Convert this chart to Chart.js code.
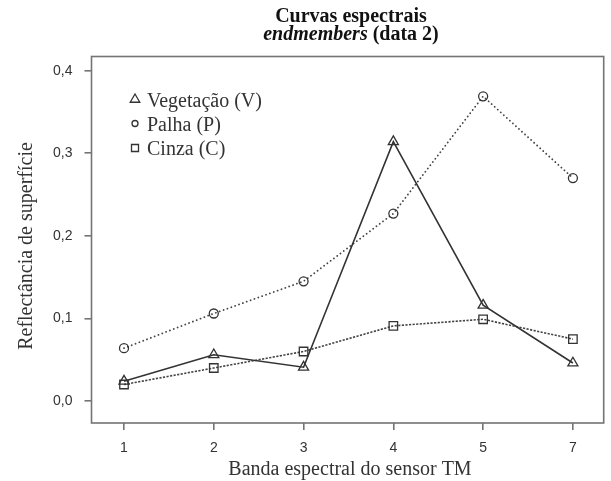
<!DOCTYPE html>
<html><head><meta charset="utf-8">
<script src="https://cdn.jsdelivr.net/npm/chart.js@4.4.0/dist/chart.umd.min.js"></script>
<style>html,body{margin:0;padding:0;background:#fff;} canvas{display:block;}</style>
</head><body>
<canvas id="c" width="611" height="481"></canvas>
<script>
// ---- data ----
const bands = ["1", "2", "3", "4", "5", "7"];
const vegetacao = [0.024, 0.056, 0.041, 0.314, 0.116, 0.046];
const palha     = [0.064, 0.106, 0.145, 0.227, 0.369, 0.270];
const cinza     = [0.020, 0.040, 0.060, 0.091, 0.099, 0.075];
const yTicks = [0, 0.1, 0.2, 0.3, 0.4];
const seriesNames = ["Vegetação (V)", "Palha (P)", "Cinza (C)"];
const titleLine1 = "Curvas espectrais";
const titleItalic = "endmembers";
const titleRest = " (data 2)";
const xTitle = "Banda espectral do sensor TM";
const yTitle = "Reflectância de superfície";

const INK = '#333333';
const AXIS = '#747474';
const SERIF = '"Liberation Serif", "Times New Roman", serif';
const SANS = '"Liberation Sans", Arial, sans-serif';

const toPts = arr => arr.map((v, i) => ({x: i + 1, y: v}));

function drawMarker(ctx, style, x, y, size) {
  ctx.beginPath();
  if (style === 'circle') {
    ctx.arc(x, y, size, 0, Math.PI * 2);
  } else if (style === 'triangle') {
    const r = size;
    ctx.moveTo(x, y - r);
    ctx.lineTo(x + r * Math.sqrt(3) / 2, y + r / 2);
    ctx.lineTo(x - r * Math.sqrt(3) / 2, y + r / 2);
    ctx.closePath();
  } else {
    ctx.rect(x - size, y - size, size * 2, size * 2);
  }
  ctx.stroke();
}

const decor = {
  id: 'decor',
  beforeDatasetsDraw(chart) {
    const {ctx, chartArea: a} = chart;
    ctx.save();
    ctx.strokeStyle = AXIS;
    ctx.lineWidth = 1.6;
    ctx.strokeRect(a.left, a.top, a.right - a.left, a.bottom - a.top);
    ctx.restore();
  },
  afterDraw(chart) {
    const {ctx} = chart;
    ctx.save();
    ctx.fillStyle = '#111';
    // title
    const cx = 351;
    ctx.font = 'bold 20px ' + SERIF;
    ctx.textAlign = 'center';
    ctx.textBaseline = 'alphabetic';
    ctx.fillText(titleLine1, cx, 22);
    ctx.font = 'italic bold 20px ' + SERIF;
    const w1 = ctx.measureText(titleItalic).width;
    ctx.font = 'bold 20px ' + SERIF;
    const w2 = ctx.measureText(titleRest).width;
    const x0 = cx - (w1 + w2) / 2;
    ctx.textAlign = 'left';
    ctx.font = 'italic bold 20px ' + SERIF;
    ctx.fillText(titleItalic, x0, 40);
    ctx.font = 'bold 20px ' + SERIF;
    ctx.fillText(titleRest, x0 + w1, 40);

    // axis titles
    ctx.fillStyle = INK;
    ctx.font = '20px ' + SERIF;
    ctx.textAlign = 'center';
    ctx.fillText(xTitle, 350, 474.5);
    ctx.save();
    ctx.translate(31.5, 246);
    ctx.rotate(-Math.PI / 2);
    ctx.fillText(yTitle, 0, 0);
    ctx.restore();

    // legend
    const rowsY = [99.5, 123.5, 148];
    const legendSize = [5.5, 3, 3.5];
    ctx.strokeStyle = INK;
    ctx.lineWidth = 1.3;
    ctx.textAlign = 'left';
    chart.data.datasets.forEach((ds, i) => {
      drawMarker(ctx, ds.pointStyle, 135, rowsY[i], legendSize[i]);
      ctx.fillStyle = INK;
      ctx.fillText(ds.label, 147, rowsY[i] + 7);
    });
    ctx.restore();
  }
};

new Chart(document.getElementById('c'), {
  type: 'line',
  data: {
    datasets: [
      {
        label: seriesNames[0], data: toPts(vegetacao),
        borderColor: INK, borderWidth: 1.6, pointStyle: 'triangle',
        pointRadius: 5.8, pointBorderColor: INK, pointBackgroundColor: 'rgba(0,0,0,0)',
        pointBorderWidth: 1.3, tension: 0
      },
      {
        label: seriesNames[1], data: toPts(palha),
        borderColor: '#444', borderWidth: 1.8, borderDash: [0.1, 4], borderCapStyle: 'round',
        pointStyle: 'circle', pointRadius: 4.5, pointBorderColor: INK,
        pointBackgroundColor: 'rgba(0,0,0,0)', pointBorderWidth: 1.3, tension: 0
      },
      {
        label: seriesNames[2], data: toPts(cinza),
        borderColor: '#444', borderWidth: 1.6, borderDash: [2.2, 1.4],
        pointStyle: 'rect', pointRadius: 6, pointBorderColor: INK,
        pointBackgroundColor: 'rgba(0,0,0,0)', pointBorderWidth: 1.3, tension: 0
      }
    ]
  },
  options: {
    responsive: false,
    animation: false,
    devicePixelRatio: 1,
    layout: {padding: {left: 0, right: 3.3, top: 56.5, bottom: 0}},
    plugins: {legend: {display: false}, tooltip: {enabled: false}, title: {display: false}},
    scales: {
      x: {
        type: 'linear', min: 0.638, max: 6.343,
        afterBuildTicks: s => { s.ticks = bands.map((b, i) => ({value: i + 1})); },
        afterFit: s => { s.height = 58; },
        ticks: {
          callback: v => bands[Math.round(v) - 1],
          color: INK, font: {family: SANS, size: 14}, padding: 10, maxRotation: 0, autoSkip: false
        },
        grid: {drawOnChartArea: false, drawTicks: true, tickLength: 7, color: AXIS, lineWidth: 1.6},
        border: {display: false}
      },
      y: {
        type: 'linear', min: -0.0266, max: 0.4172,
        afterBuildTicks: s => { s.ticks = yTicks.map(v => ({value: v})); },
        afterFit: s => { s.width = 91.5; },
        ticks: {
          callback: v => v.toFixed(1).replace('.', ','),
          color: INK, font: {family: SANS, size: 14}, padding: 12
        },
        grid: {drawOnChartArea: false, drawTicks: true, tickLength: 7, color: AXIS, lineWidth: 1.6},
        border: {display: false}
      }
    }
  },
  plugins: [decor]
});
</script>
</body></html>
